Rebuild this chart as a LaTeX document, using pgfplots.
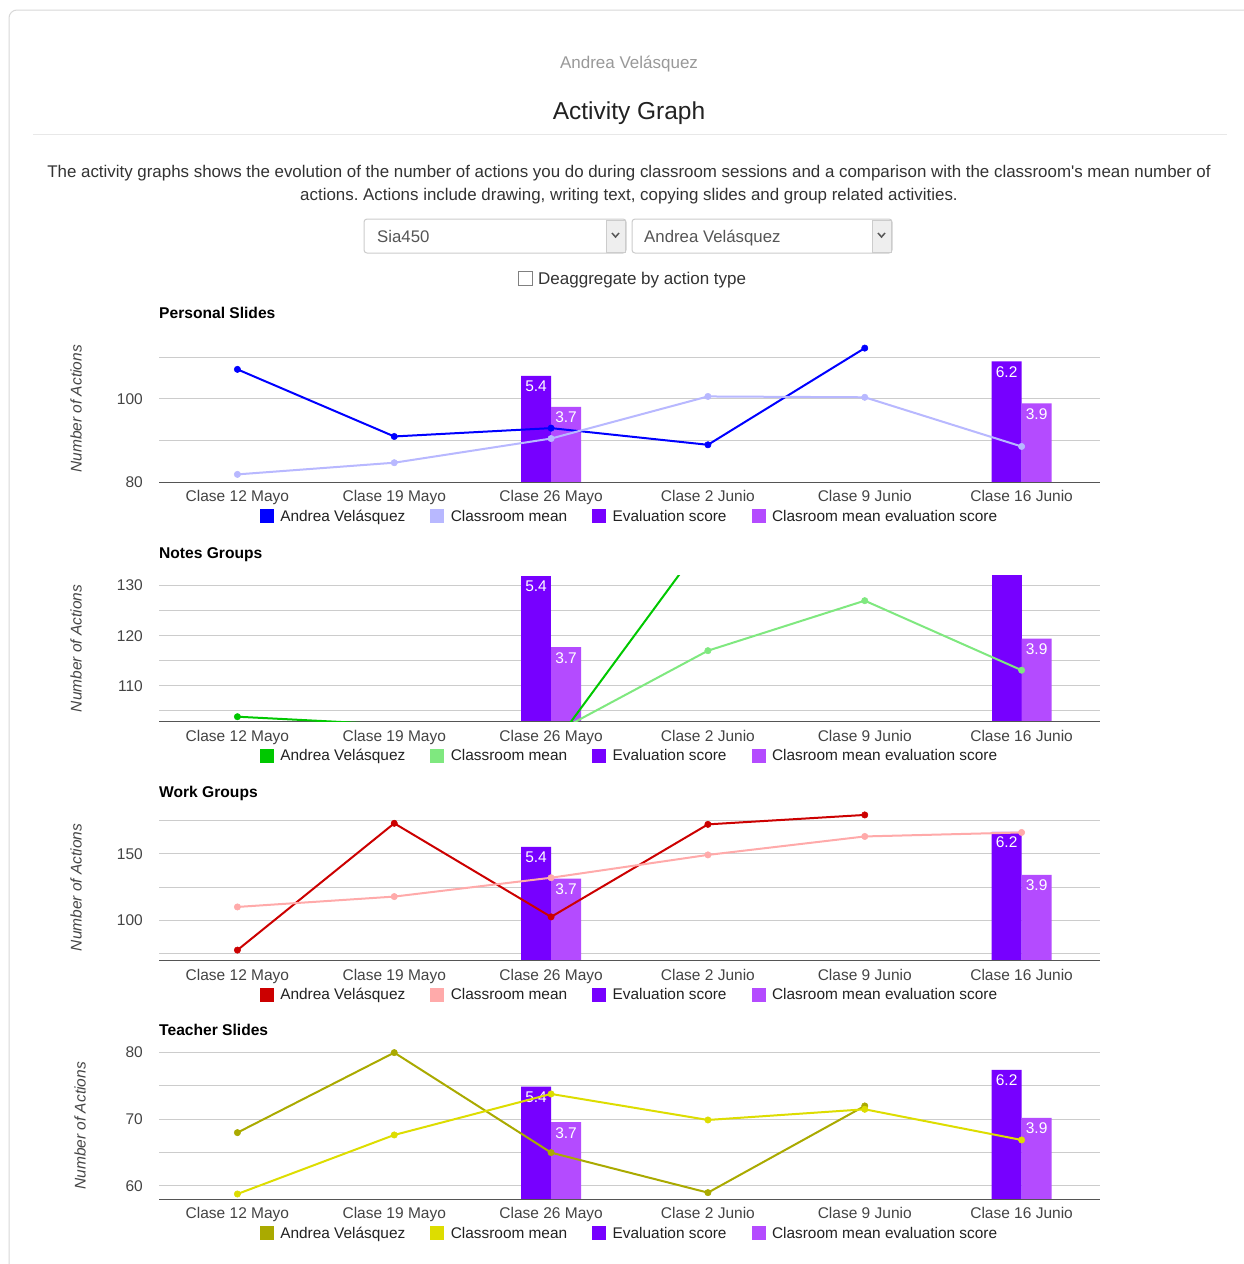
\documentclass[border=0pt]{standalone}
\usepackage{fontspec}
\setmainfont{Liberation Sans}
\usepackage{pgfplots}
\pgfplotsset{compat=1.18}
\definecolor{gridc}{HTML}{CCCCCC}
\definecolor{basec}{HTML}{555555}
\definecolor{tickc}{HTML}{444444}
\definecolor{c222}{HTML}{222222}
\definecolor{c333}{HTML}{333333}
\definecolor{c555}{HTML}{555555}
\definecolor{c999}{HTML}{999999}
\definecolor{panelc}{HTML}{D8D8D8}
\definecolor{hrc}{HTML}{E8E8E8}
\definecolor{boxc}{HTML}{CCCCCC}
\definecolor{btnc}{HTML}{EEEEEE}
\definecolor{evalc}{HTML}{7700FF}
\definecolor{cmevalc}{HTML}{B44BFF}
\definecolor{blueA}{HTML}{0000FF}
\definecolor{blueB}{HTML}{B8B8FF}
\definecolor{greenA}{HTML}{00C800}
\definecolor{greenB}{HTML}{7FE87F}
\definecolor{redA}{HTML}{CC0000}
\definecolor{redB}{HTML}{FFAAAA}
\definecolor{oliveA}{HTML}{AAAA00}
\definecolor{yellowB}{HTML}{DDDD00}
\newcommand\fs[1]{\fontsize{#1}{#1}\selectfont}

\pgfplotsset{
  chartbase/.style={scale only axis, width=941pt, height=146.7pt, xmin=-0.5, xmax=5.5, anchor=south west},
  gridaxis/.style={chartbase,
    axis x line*=bottom, axis y line*=left,
    x axis line style={draw=none},
    y axis line style={draw=none},
    major tick length=0pt, minor tick length=0pt,
    xtick={0,...,5},
    xticklabels={Clase 12 Mayo,Clase 19 Mayo,Clase 26 Mayo,Clase 2 Junio,Clase 9 Junio,Clase 16 Junio},
    ymajorgrids, yminorgrids,
    major grid style={draw=gridc, line width=1pt},
    minor grid style={draw=gridc, line width=1pt},
    tick label style={font=\fs{15.5pt}, text=tickc},
    xticklabel style={anchor=north, inner sep=0pt, yshift=-8pt},
    yticklabel style={anchor=east, inner sep=0pt, xshift=-16pt},
    /pgf/number format/assume math mode=true,
    every axis y label/.style={at={(axis description cs:-0.0882,0.5)}, rotate=90, anchor=center},
    ylabel style={font=\fs{15.5pt}\itshape, text=tickc},
    ylabel={Number of Actions},
  },
  baraxis/.style={chartbase, hide axis, ymin=0},
  lineaxis/.style={chartbase, axis x line*=bottom, axis y line=none, xtick=\empty, ytick=\empty,
    x axis line style={draw=basec, line width=1.5pt},
    legend columns=4,
    legend style={at={(axis description cs:0.5,0)}, anchor=center, yshift=-34pt, draw=none, fill=none,
      font=\fs{15.4pt}, text=c222, inner sep=0pt, outer sep=0pt,
      /tikz/every even column/.append style={column sep=23pt},
      /tikz/every odd column/.append style={column sep=4.5pt}},
    legend image code/.code={\fill[##1, draw=none] (0pt,-7pt) rectangle (14pt,7pt);},
  },
  evalbar/.style={ybar, bar width=30pt, bar shift=-15pt, fill=evalc, draw=none},
  cmbar/.style={ybar, bar width=30pt, bar shift=15pt, fill=cmevalc, draw=none},
  barlabel/.style={nodes near coords, point meta=explicit symbolic, nodes near coords align={below},
    every node near coord/.append style={text=white, font=\fs{15.5pt}, inner sep=0pt, yshift=-5pt, xshift=#1}},
  lineA/.style={line width=2pt, mark=*, mark size=3.2pt, mark options={solid, line width=0.5pt}},
}

\begin{document}
\frenchspacing
\begin{tikzpicture}
\useasboundingbox (0pt,0pt) rectangle (1243pt,-1264pt);
\fill[white] (0pt,0pt) rectangle (1243pt,-1264pt);
\draw[panelc, line width=1pt, rounded corners=8pt] (9pt,-10pt) rectangle (1262pt,-1290pt);

% header
\node[anchor=base, text=c999, font=\fs{17pt}, inner sep=0pt] at (629pt,-68pt) {Andrea Velásquez};
\node[anchor=base, text=c222, font=\fs{24.5pt}, inner sep=0pt] at (629pt,-119pt) {Activity Graph};
\draw[hrc, line width=1pt] (33pt,-134pt) -- (1227pt,-134pt);
\node[anchor=base, text=c333, font=\fs{16.9pt}, inner sep=0pt] at (629pt,-177pt) {The activity graphs shows the evolution of the number of actions you do during classroom sessions and a comparison with the classroom\textquotesingle s mean number of};
\node[anchor=base, text=c333, font=\fs{16.9pt}, inner sep=0pt] at (629pt,-200pt) {actions. Actions include drawing, writing text, copying slides and group related activities.};

% dropdowns
\draw[boxc, line width=1pt, rounded corners=3pt] (364pt,-219pt) rectangle (626pt,-253pt);
\filldraw[draw=boxc, fill=btnc, line width=1pt] (606pt,-220pt) rectangle (625pt,-252pt);
\draw[c555, line width=1.5pt] (612pt,-233pt) -- (615.5pt,-237pt) -- (619pt,-233pt);
\node[anchor=base west, text=c555, font=\fs{16.8pt}, inner sep=0pt] at (377pt,-242pt) {Sia450};
\draw[boxc, line width=1pt, rounded corners=3pt] (632pt,-219pt) rectangle (892pt,-253pt);
\filldraw[draw=boxc, fill=btnc, line width=1pt] (872pt,-220pt) rectangle (891pt,-252pt);
\draw[c555, line width=1.5pt] (878pt,-233pt) -- (881.5pt,-237pt) -- (885pt,-233pt);
\node[anchor=base west, text=c555, font=\fs{16.8pt}, inner sep=0pt] at (644pt,-242pt) {Andrea Velásquez};
% checkbox
\draw[gray, line width=1pt] (518pt,-271pt) rectangle (532pt,-285pt);
\node[anchor=base west, text=c333, font=\fs{17pt}, inner sep=0pt] at (538pt,-284pt) {Deaggregate by action type};

% titles
\node[anchor=base west, font=\bfseries\fs{15.6pt}, inner sep=0pt] at (159pt,-318.6pt) {Personal Slides};
\node[anchor=base west, font=\bfseries\fs{15.6pt}, inner sep=0pt] at (159pt,-558pt) {Notes Groups};
\node[anchor=base west, font=\bfseries\fs{15.6pt}, inner sep=0pt] at (159pt,-797pt) {Work Groups};
\node[anchor=base west, font=\bfseries\fs{15.6pt}, inner sep=0pt] at (159pt,-1035.6pt) {Teacher Slides};

%%%%% Chart 1: Personal Slides
\begin{axis}[gridaxis, at={(159pt,-482.3pt)}, ymin=80, ymax=115.2, ytick={80,100}, minor ytick={90,110}]
\end{axis}
\begin{axis}[baraxis, at={(159pt,-482.3pt)}, ymax=8.044, y filter/.expression={y+0.434}]
\addplot[evalbar, barlabel=-15pt] coordinates {(2,5.4) [5.4] (5,6.2) [6.2]};
\addplot[cmbar, barlabel=15pt] coordinates {(2,3.7) [3.7] (5,3.9) [3.9]};
\end{axis}
\begin{axis}[lineaxis, at={(159pt,-482.3pt)}, ymin=80, ymax=115.2, clip mode=individual]
\addplot[lineA, color=blueA] coordinates {(0,107.1) (1,91.0) (2,93.0) (3,89.0) (4,112.2)};
\addplot[lineA, color=blueB] coordinates {(0,81.9) (1,84.7) (2,90.5) (3,100.6) (4,100.4) (5,88.6)};
\addlegendimage{fill=evalc}
\addlegendimage{fill=cmevalc}
\legend{Andrea Velásquez, Classroom mean, Evaluation score, Clasroom mean evaluation score}
\end{axis}

%%%%% Chart 2: Notes Groups
\begin{axis}[gridaxis, at={(159pt,-721.7pt)}, ymin=102.8, ymax=132.13, ytick={110,120,130}, minor ytick={105,115,125}]
\end{axis}
\begin{axis}[baraxis, at={(159pt,-721.7pt)}, ymax=3.5, y filter/.expression={y-1.92}]
\addplot[evalbar, barlabel=-15pt] coordinates {(2,5.4) [5.4]};
\addplot[evalbar] coordinates {(5,6.2)};
\addplot[cmbar, barlabel=15pt] coordinates {(2,3.7) [3.7] (5,3.9) [3.9]};
\end{axis}
\begin{axis}[lineaxis, at={(159pt,-721.7pt)}, ymin=102.8, ymax=132.13]
\addplot[lineA, color=greenA] coordinates {(0,103.8) (1,102.2) (2,97.4) (3,140.0) (4,148.0)};
\addplot[lineA, color=greenB] coordinates {(0,96.0) (1,98.0) (2,100.2) (3,117.0) (4,127.0) (5,113.1)};
\addlegendimage{fill=evalc}
\addlegendimage{fill=cmevalc}
\legend{Andrea Velásquez, Classroom mean, Evaluation score, Clasroom mean evaluation score}
\end{axis}

%%%%% Chart 3: Work Groups
\begin{axis}[gridaxis, at={(159pt,-960.7pt)}, ymin=69.5, ymax=180, ytick={100,150}, minor ytick={75,125,175}]
\end{axis}
\begin{axis}[baraxis, at={(159pt,-960.7pt)}, ymax=7.84, y filter/.expression={y+0.69}]
\addplot[evalbar, barlabel=-15pt] coordinates {(2,5.4) [5.4] (5,6.2) [6.2]};
\addplot[cmbar, barlabel=15pt] coordinates {(2,3.7) [3.7] (5,3.9) [3.9]};
\end{axis}
\begin{axis}[lineaxis, at={(159pt,-960.7pt)}, ymin=69.5, ymax=180, clip mode=individual]
\addplot[lineA, color=redA] coordinates {(0,77.5) (1,173.0) (2,102.5) (3,172.2) (4,179.3)};
\addplot[lineA, color=redB] coordinates {(0,110.0) (1,117.8) (2,132.0) (3,149.2) (4,163.1) (5,166.1)};
\addlegendimage{fill=evalc}
\addlegendimage{fill=cmevalc}
\legend{Andrea Velásquez, Classroom mean, Evaluation score, Clasroom mean evaluation score}
\end{axis}

%%%%% Chart 4: Teacher Slides
\begin{axis}[gridaxis, at={(159pt,-1199.3pt)}, ymin=58, ymax=80, ytick={60,70,80}, minor ytick={65,75},
  every axis y label/.append style={at={(axis description cs:-0.0839,0.5)}}]
\end{axis}
\begin{axis}[baraxis, at={(159pt,-1199.3pt)}, ymax=7.03]
\addplot[evalbar, barlabel=-15pt] coordinates {(2,5.4) [5.4] (5,6.2) [6.2]};
\addplot[cmbar, barlabel=15pt] coordinates {(2,3.7) [3.7] (5,3.9) [3.9]};
\end{axis}
\begin{axis}[lineaxis, at={(159pt,-1199.3pt)}, ymin=58, ymax=80, clip mode=individual]
\addplot[lineA, color=oliveA] coordinates {(0,68.0) (1,80.0) (2,65.0) (3,59.0) (4,72.0)};
\addplot[lineA, color=yellowB] coordinates {(0,58.8) (1,67.65) (2,73.8) (3,69.9) (4,71.5) (5,66.9)};
\addlegendimage{fill=evalc}
\addlegendimage{fill=cmevalc}
\legend{Andrea Velásquez, Classroom mean, Evaluation score, Clasroom mean evaluation score}
\end{axis}
\end{tikzpicture}
\end{document}
